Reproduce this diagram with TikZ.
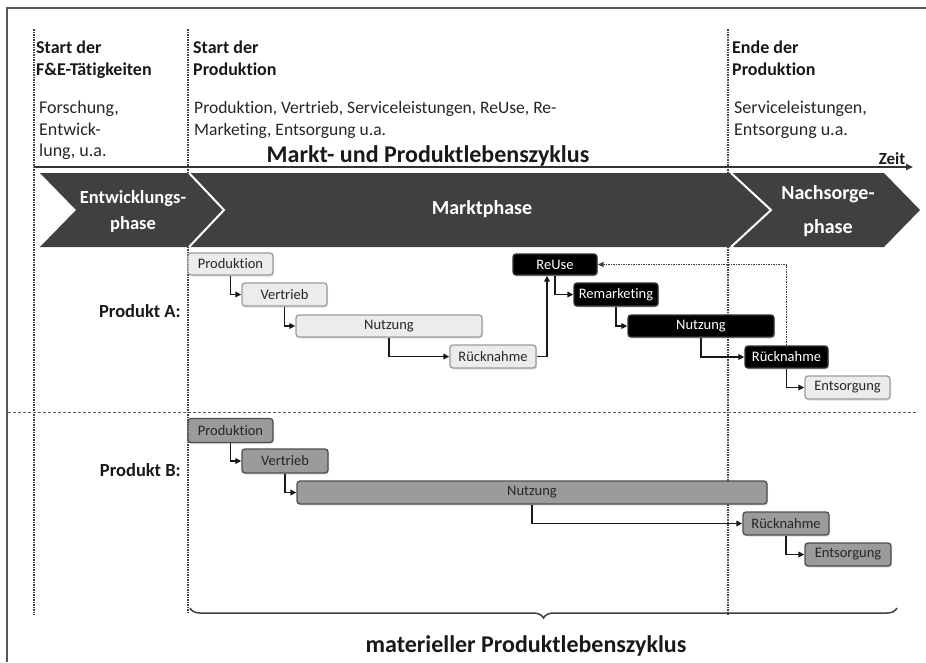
\documentclass[tikz,border=0pt]{standalone}
\usepackage{fontspec}
\setmainfont{Carlito}[Ligatures={NoCommon,NoContextual,NoRare}]
\usetikzlibrary{arrows.meta,decorations.pathreplacing,shadows}
\definecolor{bandc}{HTML}{404040}
\definecolor{boxlight}{HTML}{ECECEC}
\definecolor{boxlightedge}{HTML}{9C9C9C}
\definecolor{boxgray}{HTML}{9B9B9B}
\definecolor{boxgrayedge}{HTML}{4E4E4E}
\tikzset{
 boxbase/.style={rounded corners=3pt, line width=1.3pt, inner sep=0pt,
   font=\fontsize{14.5}{16}\selectfont,
   drop shadow={opacity=0.25,shadow xshift=1pt,shadow yshift=-1.5pt}},
 lightbox/.style={boxbase, fill=boxlight, draw=boxlightedge, text=black!85},
 blackbox/.style={boxbase, fill=black, draw=black!80, text=white},
 graybox/.style={boxbase, fill=boxgray, draw=boxgrayedge, text=black!85},
 conn/.style={line width=1.6pt, black!90, -{Triangle[length=6pt,width=5.5pt]}},
 vdot/.style={line width=1.4pt, dash pattern=on 1.5pt off 1pt, black!75},
 hdash/.style={line width=1pt, dash pattern=on 3pt off 2pt, black!65},
 head/.style={font=\fontsize{18}{20}\selectfont\bfseries, anchor=base west, inner sep=0pt, text=black!90},
 body/.style={font=\fontsize{18}{20}\selectfont, anchor=base west, inner sep=0pt, text=black!85},
 bandtext/.style={font=\fontsize{18.5}{20}\selectfont\bfseries, anchor=base, inner sep=0pt, text=white},
 bigtext/.style={font=\fontsize{24}{26}\selectfont\bfseries, anchor=base, inner sep=0pt, text=black!90},
}
\begin{document}
\begin{tikzpicture}[x=1pt,y=-1pt]
\useasboundingbox (0,0) rectangle (926,662);
% frame
\draw[line width=2pt, black!65] (926,8) -- (7,8) -- (7,662);

% top texts
\node[head] (sF1) at (36,53) {Start der};
\node[head] (sF2) at (36,75) {F\&E-Tätigkeiten};
\node[body] (tF1) at (39,113) {Forschung,};
\node[body] (tF2) at (39,135) {Entwick-};
\node[body] (tF3) at (39,156) {lung, u.a.};
\node[head] (sP1) at (193,53) {Start der};
\node[head] (sP2) at (193,75) {Produktion};
\node[body, font=\fontsize{17.5}{20}\selectfont] (tP1) at (194,113) {Produktion, Vertrieb, Serviceleistungen, ReUse, Re-};
\node[body, font=\fontsize{17.5}{20}\selectfont] (tP2) at (194,135) {Marketing, Entsorgung u.a.};
\node[head] (sE1) at (732,53) {Ende der};
\node[head] (sE2) at (732,75) {Produktion};
\node[body] (tE1) at (734,113) {Serviceleistungen,};
\node[body] (tE2) at (734,135) {Entsorgung u.a.};
\node[bigtext] (title) at (428,162) {Markt- und Produktlebenszyklus};
\node[font=\fontsize{17}{19}\selectfont\bfseries, anchor=base, inner sep=0pt, text=black!90] (zeit) at (892,164) {Zeit};

% time axis
\coordinate (axL) at (34,167);
\coordinate (axR) at (913,167);
\draw[line width=1.8pt, black!80, -{Triangle[length=7pt,width=6pt]}] (axL) -- (axR);

% phase band
\fill[bandc] (40,173) -- (884,173) -- (920,210) -- (884,247) -- (40,247) -- (76,210) -- cycle;
\draw[white, line width=2pt] (189,173) -- (224,210) -- (189,247);
\draw[white, line width=2pt] (731,173) -- (771,210) -- (731,247);
\node[bandtext] (ph1a) at (133,203) {Entwicklungs-};
\node[bandtext] (ph1b) at (133,229) {phase};
\node[bandtext, font=\fontsize{20}{22}\selectfont\bfseries] (ph2) at (482,214) {Marktphase};
\node[bandtext, font=\fontsize{20}{22}\selectfont\bfseries] (ph3a) at (828,199) {Nachsorge-};
\node[bandtext, font=\fontsize{20}{22}\selectfont\bfseries] (ph3b) at (828,233) {phase};

% vertical dotted milestones
\coordinate (v1t) at (34,29); \coordinate (v1b) at (34,615);
\coordinate (v2t) at (188,29); \coordinate (v2b) at (188,612);
\coordinate (v3t) at (728,29); \coordinate (v3b) at (728,615);
\draw[vdot] (v1t) -- (v1b);
\draw[vdot] (v2t) -- (v2b);
\draw[vdot] (v3t) -- (v3b);

% horizontal separator
\coordinate (hL) at (8,412); \coordinate (hR) at (917,412);
\draw[hdash] (hL) -- (hR);

% labels
\node[font=\fontsize{18.5}{20}\selectfont\bfseries, anchor=base east, inner sep=0pt, text=black!90] (labA) at (181,317) {Produkt A:};
\node[font=\fontsize{18.5}{20}\selectfont\bfseries, anchor=base east, inner sep=0pt, text=black!90] (labB) at (181,476) {Produkt B:};

% Produkt A
\node[lightbox, minimum width=85pt, minimum height=22pt] (pA) at (230.5,264) {Produktion};
\node[lightbox, minimum width=85pt, minimum height=23pt] (vA) at (284.5,294.5) {Vertrieb};
\node[lightbox, minimum width=186pt, minimum height=22pt] (nA) at (389,326) {Nutzung};
\node[lightbox, minimum width=86pt, minimum height=23pt] (rA) at (493,356.5) {Rücknahme};
\node[blackbox, minimum width=84pt, minimum height=21pt] (reuse) at (555,264.5) {ReUse};
\node[blackbox, minimum width=84pt, minimum height=23pt] (rem) at (616,294.5) {Remarketing};
\node[blackbox, minimum width=146pt, minimum height=22pt] (nA2) at (701,326) {Nutzung};
\node[blackbox, minimum width=83pt, minimum height=22pt] (rA2) at (786.5,357) {Rücknahme};
\node[lightbox, minimum width=85pt, minimum height=23pt] (eA) at (847.5,387.5) {Entsorgung};

\draw[conn] (pA.south) |- (vA.west);
\draw[conn] (vA.south) |- (nA.west);
\draw[conn] (nA.south) |- (rA.west);
\draw[conn] (rA.east) -| ([xshift=-8pt]reuse.south);
\draw[conn] (reuse.south) |- (rem.west);
\draw[conn] (rem.south) |- (nA2.west);
\draw[conn] (nA2.south) |- (rA2.west);
\draw[conn] (rA2.south) |- (eA.west);
\draw[line width=1.4pt, dash pattern=on 1.5pt off 1pt, black!75, -{Triangle[length=6pt,width=5pt]}] (rA2.north) |- (reuse.east);

% Produkt B
\node[graybox, minimum width=85pt, minimum height=24pt] (pB) at (230.5,430.5) {Produktion};
\node[graybox, minimum width=86pt, minimum height=24pt] (vB) at (285,461) {Vertrieb};
\node[graybox, minimum width=470pt, minimum height=23pt] (nB) at (532,492.5) {Nutzung};
\node[graybox, minimum width=86pt, minimum height=23pt] (rB) at (786,523.5) {Rücknahme};
\node[graybox, minimum width=86pt, minimum height=23pt] (eB) at (848,554.5) {Entsorgung};

\draw[conn] (pB.south) |- (vB.west);
\draw[conn] (vB.south) |- (nB.west);
\draw[conn] (nB.south) |- (rB.west);
\draw[conn] (rB.south) |- (eB.west);

% brace
\coordinate (brL) at (190,608);
\coordinate (brR) at (897,608);
\draw[line width=1.5pt, black!75, decorate, decoration={brace, mirror, amplitude=10pt}] (brL) -- (brR);
\node[bigtext] (mat) at (526,652) {materieller Produktlebenszyklus};
\end{tikzpicture}
\end{document}
